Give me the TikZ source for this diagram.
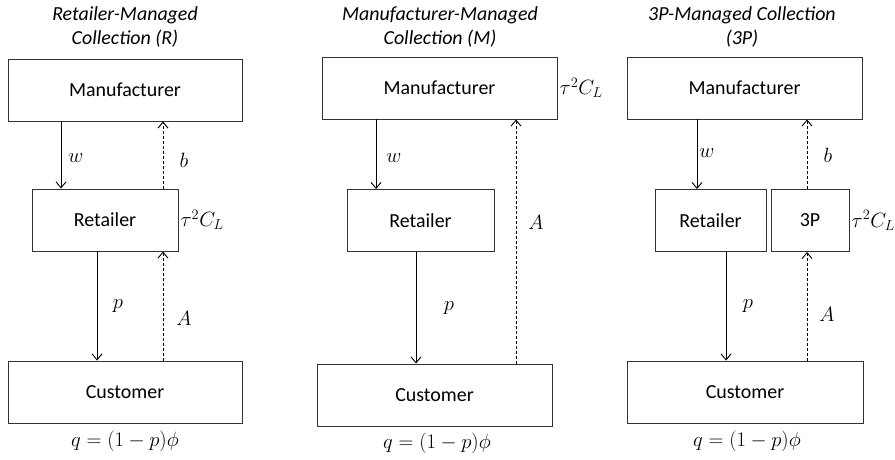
\documentclass[tikz,border=0pt]{standalone}
\usepackage{fontspec}
\setmainfont{Carlito}
\usetikzlibrary{arrows.meta,positioning}
\tikzset{
	box/.style={draw=black!80, line width=0.9bp, minimum height=62bp, inner sep=0pt, font=\fontsize{20}{24}\selectfont},
	ttl/.style={align=center, font=\fontsize{20}{25}\selectfont\itshape},
	lbl/.style={inner sep=1bp, font=\fontsize{20}{24}\selectfont},
	flow/.style={line width=0.9bp, -{Straight Barb[length=6bp,width=10bp]}},
	back/.style={flow, dash pattern=on 3bp off 2bp},
}
\begin{document}
\begin{tikzpicture}[x=1bp, y=-1bp]
		\useasboundingbox (0,0) rectangle (895,460);
		% Retailer-managed collection
		\node[ttl] (tR) at (125,27) {Retailer-Managed\\Collection (R)};
		\node[box, minimum width=234bp] (mR) at (125,90) {Manufacturer};
		\node[box, minimum width=146bp] (rR) at (105,220) {Retailer};
		\node[box, minimum width=234bp] (cR) at (125,392) {Customer};
		\node[lbl, right=1bp of rR] (kR) {$\tau^2C_L$};
		\coordinate (wR) at (61,0);
		\coordinate (bR) at (163,0);
		\coordinate (pR) at (97,0);
		\draw[flow] (mR.south -| wR) -- (rR.north -| wR);
		\draw[back] (rR.north -| bR) -- (mR.south -| bR);
		\draw[flow] (rR.south -| pR) -- (cR.north -| pR);
		\draw[back] (cR.north -| bR) -- (rR.south -| bR);
		\node[lbl] (lwR) at (76,158) {$w$};
		\node[lbl] (lbR) at (184,160) {$b$};
		\node[lbl] (lpR) at (118,306) {$p$};
		\node[lbl] (laR) at (184,318) {$A$};
		\node[lbl] (qR) at (125,441) {$q=(1-p)\phi$};
		% Manufacturer-managed collection
		\node[ttl] (tM) at (440,27) {Manufacturer-Managed\\Collection (M)};
		\node[box, minimum width=235bp] (mM) at (439.5,88) {Manufacturer};
		\node[box, minimum width=147bp] (rM) at (420.5,220.5) {Retailer};
		\node[box, minimum width=235bp] (cM) at (434.5,395) {Customer};
		\node[lbl, right=1bp of mM] (kM) {$\tau^2C_L$};
		\coordinate (wM) at (376,0);
		\coordinate (pM) at (416,0);
		\coordinate (aM) at (516,0);
		\draw[flow] (mM.south -| wM) -- (rM.north -| wM);
		\draw[flow] (rM.south -| pM) -- (cM.north -| pM);
		\draw[back] (cM.north -| aM) -- (mM.south -| aM);
		\node[lbl] (lwM) at (394,158) {$w$};
		\node[lbl] (lpM) at (449,308) {$p$};
		\node[lbl] (laM) at (536,222) {$A$};
		\node[lbl] (qM) at (437,443) {$q=(1-p)\phi$};
		% 3P-managed collection
		\node[ttl] (tT) at (742,27) {3P-Managed Collection\\(3P)};
		\node[box, minimum width=235bp] (mT) at (744.5,88) {Manufacturer};
		\node[box, minimum width=111bp] (rT) at (710.5,220.5) {Retailer};
		\node[box, minimum width=78bp] (xT) at (810,220.5) {3P};
		\node[box, minimum width=236bp] (cT) at (745,392) {Customer};
		\node[lbl, right=1bp of xT] (kT) {$\tau^2C_L$};
		\coordinate (wT) at (697,0);
		\coordinate (bT) at (807,0);
		\coordinate (pT) at (726,0);
		\draw[flow] (mT.south -| wT) -- (rT.north -| wT);
		\draw[back] (xT.north -| bT) -- (mT.south -| bT);
		\draw[flow] (rT.south -| pT) -- (cT.north -| pT);
		\draw[back] (cT.north -| bT) -- (xT.south -| bT);
		\node[lbl] (lwT) at (707,153) {$w$};
		\node[lbl] (lbT) at (828,155) {$b$};
		\node[lbl] (lpT) at (748,306) {$p$};
		\node[lbl] (laT) at (827,314) {$A$};
		\node[lbl] (qT) at (747,441) {$q=(1-p)\phi$};
\end{tikzpicture}
\end{document}
